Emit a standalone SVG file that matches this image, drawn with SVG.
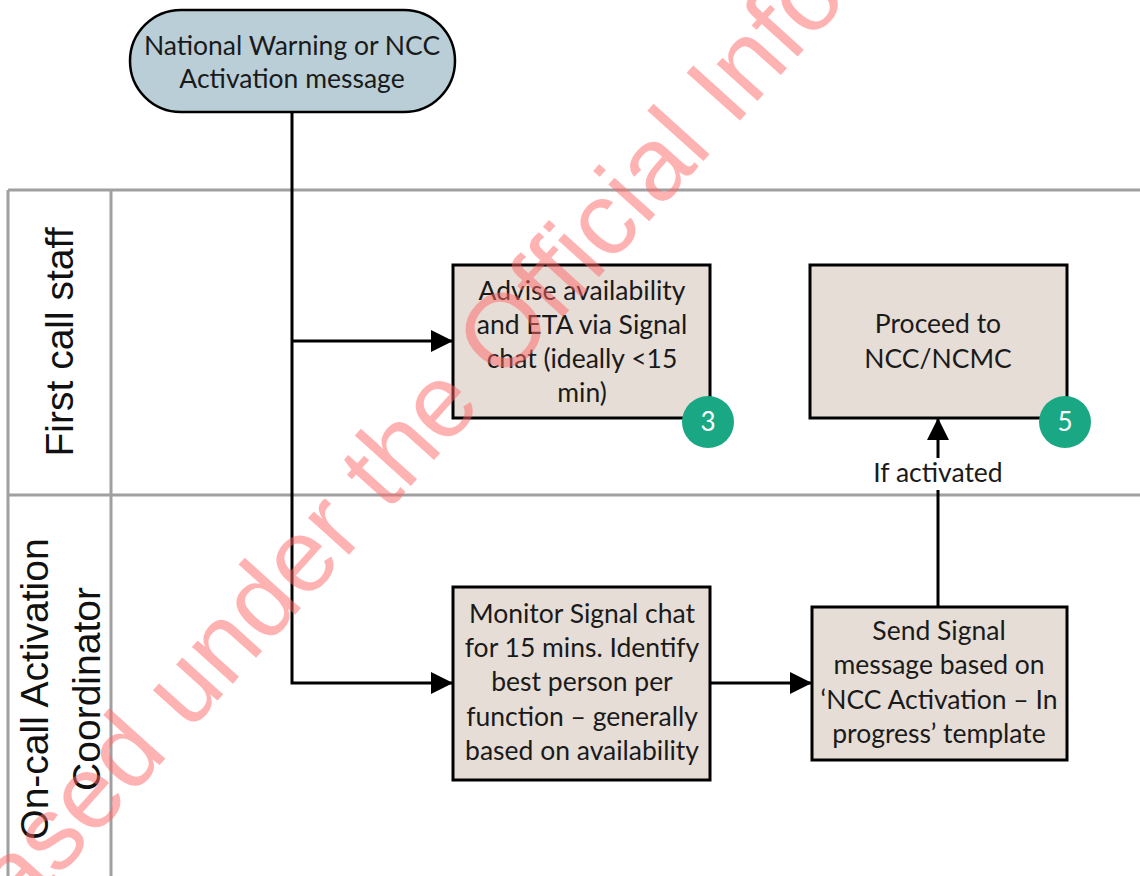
<svg xmlns="http://www.w3.org/2000/svg" width="1140" height="876" viewBox="0 0 1140 876">
<defs>
<style>
.lane{stroke:#a0a0a0;stroke-width:3;fill:none}
.box{fill:#e6ddd6;stroke:#000;stroke-width:3}
.start{fill:#b9ced6;stroke:#000;stroke-width:2.5}
.t{font-family:Lato,"Liberation Sans",sans-serif;font-size:26.5px;fill:#1a1a1a;text-anchor:middle}
.lbl{font-family:"Liberation Sans",Arial,sans-serif;font-size:39px;fill:#111;text-anchor:middle}
.badge{fill:#19a883}
.bt{font-family:Lato,"Liberation Sans",sans-serif;font-size:26px;fill:#fff;text-anchor:middle}
.conn{stroke:#000;stroke-width:3;fill:none}
.wm{font-family:"Liberation Sans",Arial,sans-serif;font-size:104px;fill:#ff6666;fill-opacity:0.5}
</style>
<marker id="arr" markerUnits="userSpaceOnUse" markerWidth="24" markerHeight="24" refX="22" refY="11" orient="auto">
<path d="M0,0 L22,11 L0,22 z" fill="#000"/>
</marker>
</defs>
<rect width="1140" height="876" fill="#fff"/>
<g id="pool">
<line class="lane" x1="8" y1="190" x2="1140" y2="190"/>
<line class="lane" x1="8" y1="495" x2="1140" y2="495"/>
<line class="lane" x1="8" y1="190" x2="8" y2="876"/>
<line class="lane" x1="111" y1="190" x2="111" y2="876"/>
<text class="lbl" transform="translate(73,342) rotate(-90)">First call staff</text>
<text class="lbl" transform="translate(48,689) rotate(-90)">On-call Activation</text>
<text class="lbl" transform="translate(100,689) rotate(-90)">Coordinator</text>
</g>
<g id="connectors">
<path class="conn" d="M292,112 L292,683 L453,683" marker-end="url(#arr)"/>
<path class="conn" d="M292,341 L453,341" marker-end="url(#arr)"/>
<path class="conn" d="M710,683 L812,683" marker-end="url(#arr)"/>
<path class="conn" d="M938,607 L938,418" marker-end="url(#arr)"/>
<rect x="866" y="458" width="144" height="32" fill="#fff"/>
<text class="t" x="938" y="482">If activated</text>
</g>
<g id="start">
<rect class="start" x="130" y="10" width="325" height="102" rx="51" ry="51"/>
<text class="t" x="292" y="55">National Warning or NCC</text>
<text class="t" x="292" y="88">Activation message</text>
</g>
<g id="advise">
<rect class="box" x="453" y="265" width="257" height="153"/>
<text class="t" x="582" y="300">Advise availability</text>
<text class="t" x="582" y="334">and ETA via Signal</text>
<text class="t" x="582" y="368">chat (ideally &lt;15</text>
<text class="t" x="582" y="402">min)</text>
<circle class="badge" cx="708" cy="422" r="26"/>
<text class="bt" x="708" y="431">3</text>
</g>
<g id="proceed">
<rect class="box" x="810" y="265" width="257" height="153"/>
<text class="t" x="938" y="333">Proceed to</text>
<text class="t" x="938" y="368">NCC/NCMC</text>
<circle class="badge" cx="1065" cy="422" r="26"/>
<text class="bt" x="1065" y="431">5</text>
</g>
<g id="monitor">
<rect class="box" x="453" y="587" width="257" height="193"/>
<text class="t" x="582" y="623">Monitor Signal chat</text>
<text class="t" x="582" y="657">for 15 mins. Identify</text>
<text class="t" x="582" y="691">best person per</text>
<text class="t" x="582" y="726">function – generally</text>
<text class="t" x="582" y="760">based on availability</text>
</g>
<g id="send">
<rect class="box" x="812" y="607" width="255" height="153"/>
<text class="t" x="939" y="640">Send Signal</text>
<text class="t" x="939" y="674">message based on</text>
<text class="t" x="939" y="709">‘NCC Activation – In</text>
<text class="t" x="939" y="743">progress’ template</text>
</g>
<g id="watermark">
<text class="wm" transform="translate(-124,1080) rotate(-48)">Released under the Official Information Act</text>
</g>
</svg>
